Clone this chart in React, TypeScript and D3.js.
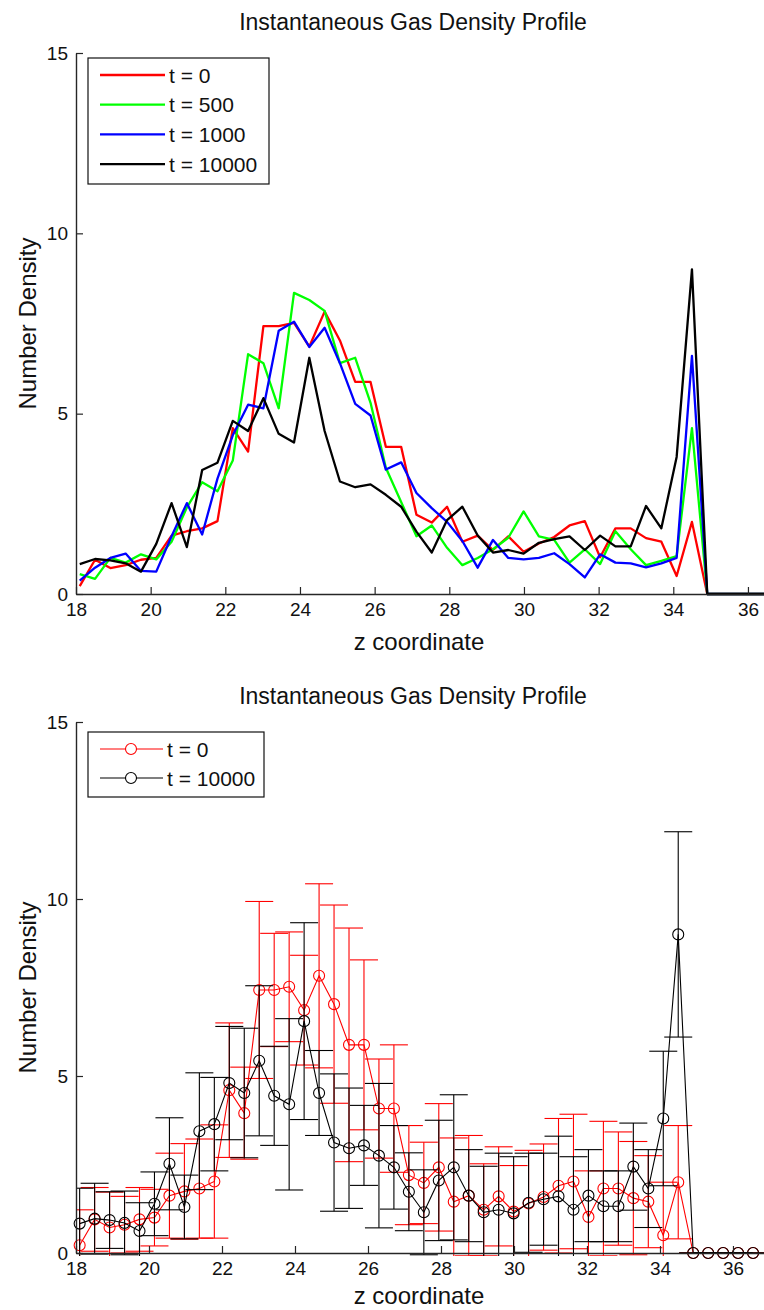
import React, { useEffect, useRef } from "react";
import * as d3 from "d3";

// z positions of the density bins
const zCoordinate = [
  18.1, 18.51, 18.92, 19.33, 19.74, 20.15, 20.56, 20.97, 21.38, 21.79, 22.2, 22.61, 23.02, 23.43, 23.84, 24.25,
  24.66, 25.07, 25.48, 25.89, 26.3, 26.71, 27.12, 27.53, 27.94, 28.35, 28.76, 29.17, 29.58, 29.99, 30.4, 30.81,
  31.22, 31.63, 32.04, 32.45, 32.86, 33.27, 33.68, 34.09, 34.5, 34.91, 35.32, 35.73, 36.14, 36.55,
];

// number density, one list per time step
const densityT0 = [
  0.22, 0.95, 0.72, 0.8, 0.95, 1.0, 1.62, 1.74, 1.82, 2.02, 4.6, 3.95, 7.43, 7.43, 7.52, 6.86, 7.83, 7.03, 5.88,
  5.88, 4.08, 4.08, 2.2, 1.98, 2.42, 1.45, 1.62, 1.22, 1.6, 1.17, 1.4, 1.58, 1.9, 2.02, 1.02, 1.82, 1.82, 1.55,
  1.45, 0.5, 2.0, 0, 0, 0, 0, 0,
];
const densityT500 = [
  0.55, 0.42, 1.0, 0.87, 1.1, 0.96, 1.45, 2.4, 3.1, 2.85, 3.7, 6.65, 6.4, 5.15, 8.35, 8.15, 7.85, 6.4, 6.55, 5.3,
  3.5, 2.55, 1.6, 1.9, 1.28, 0.8, 1.0, 1.24, 1.56, 2.29, 1.6, 1.5, 0.87, 1.24, 0.83, 1.74, 1.24, 0.8, 0.92, 1.05,
  4.6, 0, 0, 0, 0, 0,
];
const densityT1000 = [
  0.37, 0.73, 1.0, 1.12, 0.64, 0.62, 1.6, 2.52, 1.65, 3.2, 4.4, 5.25, 5.15, 7.3, 7.55, 6.85, 7.38, 6.4, 5.27, 4.95,
  3.45, 3.65, 2.8, 2.38, 2.0, 1.47, 0.73, 1.5, 1.0, 0.96, 1.0, 1.13, 0.83, 0.46, 1.1, 0.87, 0.85, 0.74, 0.85, 1.0,
  6.6, 0, 0, 0, 0, 0,
];
const densityT10000 = [
  0.83, 0.97, 0.93, 0.85, 0.62, 1.39, 2.52, 1.3, 3.44, 3.64, 4.8, 4.52, 5.43, 4.44, 4.2, 6.55, 4.52, 3.12, 2.96,
  3.04, 2.75, 2.42, 1.73, 1.15, 2.05, 2.42, 1.62, 1.15, 1.22, 1.12, 1.42, 1.52, 1.6, 1.22, 1.62, 1.32, 1.32, 2.44,
  1.82, 3.8, 9.0, 0, 0, 0, 0, 0,
];

// error bar half-lengths for the bottom panel
const errorT0 = [
  1.0, 0.9, 1.0, 0.8, 0.9, 0.8, 1.2, 1.35, 1.4, 1.6, 1.9, 1.3, 2.5, 1.6, 1.55, 1.55, 2.6, 2.8, 3.3, 2.4, 1.4, 1.8,
  1.4, 1.15, 1.8, 1.8, 1.7, 1.3, 1.4, 1.3, 1.5, 1.5, 1.9, 1.9, 1.3, 1.9, 1.6, 1.6, 1.3, 1.5, 1.6, 0, 0, 0, 0, 0,
];
const errorT10000 = [
  1.0, 1.0, 0.8, 0.9, 0.8, 0.9, 1.3, 0.9, 1.65, 1.32, 1.6, 1.83, 2.12, 1.4, 2.42, 2.78, 1.2, 1.94, 1.7, 1.13, 2.04,
  1.18, 1.1, 1.2, 1.7, 2.05, 1.3, 1.3, 1.6, 1.6, 1.4, 1.3, 1.7, 1.5, 1.3, 1.0, 1.0, 1.23, 1.1, 1.9, 2.9, 0, 0, 0,
  0, 0,
];

const xTickValues = [18, 20, 22, 24, 26, 28, 30, 32, 34, 36];
const yTickValues = [0, 5, 10, 15];

const topLabels = ["t = 0", "t = 500", "t = 1000", "t = 10000"];
const bottomLabels = ["t = 0", "t = 10000"];

const chartTitle = "Instantaneous Gas Density Profile";
const xLabel = "z coordinate";
const yLabel = "Number Density";

const font = "'Liberation Sans', Arial, Helvetica, sans-serif";
const axisColor = "#262626";

type Sel = d3.Selection<SVGSVGElement, unknown, null, undefined>;

/** Draws MATLAB-like axes (inward ticks, no box) plus title and labels. */
function drawAxes(svg: Sel, x: d3.ScaleLinear<number, number>, y: d3.ScaleLinear<number, number>, titleY: number, labelY: number) {
  const [x0] = x.range();
  const [y0, y1] = y.range();

  const xAxis = svg
    .append("g")
    .attr("transform", `translate(0, ${y0})`)
    .call(d3.axisBottom(x).tickValues(xTickValues).tickSizeInner(-7).tickSizeOuter(0).tickPadding(9));
  const yAxis = svg
    .append("g")
    .attr("transform", `translate(${x0}, 0)`)
    .call(d3.axisLeft(y).tickValues(yTickValues).tickSizeInner(-7).tickSizeOuter(0).tickPadding(8));

  [xAxis, yAxis].forEach((g) => {
    g.select(".domain").attr("stroke", axisColor).attr("stroke-width", 1.4);
    g.selectAll(".tick line").attr("stroke", axisColor).attr("stroke-width", 1.2);
    g.selectAll(".tick text").attr("font-family", font).attr("font-size", 19).attr("fill", "#111");
  });

  svg
    .append("text")
    .attr("x", 413)
    .attr("y", titleY)
    .attr("text-anchor", "middle")
    .attr("font-family", font)
    .attr("font-size", 23)
    .attr("fill", "#111")
    .text(chartTitle);

  svg
    .append("text")
    .attr("x", 419)
    .attr("y", labelY)
    .attr("text-anchor", "middle")
    .attr("font-family", font)
    .attr("font-size", 24)
    .attr("fill", "#111")
    .text(xLabel);

  svg
    .append("text")
    .attr("transform", `translate(36, ${(y0 + y1) / 2}) rotate(-90)`)
    .attr("text-anchor", "middle")
    .attr("font-family", font)
    .attr("font-size", 24)
    .attr("fill", "#111")
    .text(yLabel);
}

function addClip(svg: Sel, id: string, x: d3.ScaleLinear<number, number>, y: d3.ScaleLinear<number, number>) {
  const [xa, xb] = x.range();
  const [ya, yb] = y.range();
  svg
    .append("clipPath")
    .attr("id", id)
    .append("rect")
    .attr("x", xa)
    .attr("y", yb)
    .attr("width", xb - xa)
    .attr("height", ya - yb + 3);
}

/** Top panel: four density profiles as thick lines. */
function drawLinePanel(svg: Sel) {
  const x = d3.scaleLinear().domain([18, 36.43]).range([76, 764]);
  const y = d3.scaleLinear().domain([0, 15]).range([594, 53]);
  addClip(svg, "clip-top", x, y);

  const series = [
    { values: densityT0, color: "#ff0000" },
    { values: densityT500, color: "#00ff00" },
    { values: densityT1000, color: "#0000ff" },
    { values: densityT10000, color: "#000000" },
  ];

  const line = d3
    .line<number>()
    .x((d, i) => x(zCoordinate[i]))
    .y((d) => y(d));

  const plot = svg.append("g").attr("clip-path", "url(#clip-top)");
  series.forEach((s) => {
    plot
      .append("path")
      .datum(s.values)
      .attr("fill", "none")
      .attr("stroke", s.color)
      .attr("stroke-width", 2.3)
      .attr("stroke-linejoin", "round")
      .attr("d", line);
  });

  drawAxes(svg, x, y, 30, 650);

  // Legend
  const legend = svg.append("g");
  legend
    .append("rect")
    .attr("x", 88)
    .attr("y", 58)
    .attr("width", 181)
    .attr("height", 126)
    .attr("fill", "#fff")
    .attr("stroke", "#111")
    .attr("stroke-width", 1.2);

  const item = legend
    .selectAll(".item")
    .data(topLabels)
    .enter()
    .append("g")
    .attr("transform", (d, i) => `translate(0, ${75 + i * 29.7})`);
  item
    .append("line")
    .attr("x1", 100)
    .attr("x2", 165)
    .attr("stroke", (d, i) => series[i].color)
    .attr("stroke-width", 2.3);
  item
    .append("text")
    .attr("x", 169)
    .attr("y", 7.5)
    .attr("font-family", font)
    .attr("font-size", 21)
    .attr("fill", "#111")
    .text((d) => d);
}

/** Bottom panel: two profiles with error bars and circle markers. */
function drawErrorPanel(svg: Sel) {
  const x = d3.scaleLinear().domain([18, 36.85]).range([76, 764]);
  const y = d3.scaleLinear().domain([0, 15]).range([1253, 722]);
  addClip(svg, "clip-bottom", x, y);

  const series = [
    { values: densityT0, errors: errorT0, color: "#ff0000" },
    { values: densityT10000, errors: errorT10000, color: "#000000" },
  ];
  const cap = 14;
  const radius = 5.5;

  const line = d3
    .line<number>()
    .x((d, i) => x(zCoordinate[i]))
    .y((d) => y(d));

  series.forEach((s) => {
    const plot = svg.append("g").attr("clip-path", "url(#clip-bottom)");
    const bars = plot
      .selectAll(".bar")
      .data(s.values)
      .enter()
      .append("g")
      .attr("stroke", s.color)
      .attr("stroke-width", 1.1);
    bars
      .append("line")
      .attr("x1", (d, i) => x(zCoordinate[i]))
      .attr("x2", (d, i) => x(zCoordinate[i]))
      .attr("y1", (d, i) => y(d - s.errors[i]))
      .attr("y2", (d, i) => y(d + s.errors[i]));
    [-1, 1].forEach((sign) => {
      bars
        .append("line")
        .attr("x1", (d, i) => x(zCoordinate[i]) - cap)
        .attr("x2", (d, i) => x(zCoordinate[i]) + cap)
        .attr("y1", (d, i) => y(d + sign * s.errors[i]))
        .attr("y2", (d, i) => y(d + sign * s.errors[i]));
    });

    plot
      .append("path")
      .datum(s.values)
      .attr("fill", "none")
      .attr("stroke", s.color)
      .attr("stroke-width", 1.1)
      .attr("d", line);

    svg
      .append("g")
      .selectAll("circle")
      .data(s.values)
      .enter()
      .append("circle")
      .attr("cx", (d, i) => x(zCoordinate[i]))
      .attr("cy", (d) => y(d))
      .attr("r", radius)
      .attr("fill", "none")
      .attr("stroke", s.color)
      .attr("stroke-width", 1.1);
  });

  drawAxes(svg, x, y, 704, 1304);

  // Legend
  const legend = svg.append("g");
  legend
    .append("rect")
    .attr("x", 88)
    .attr("y", 732)
    .attr("width", 176)
    .attr("height", 65)
    .attr("fill", "#fff")
    .attr("stroke", "#111")
    .attr("stroke-width", 1.2);

  const item = legend
    .selectAll(".item")
    .data(bottomLabels)
    .enter()
    .append("g")
    .attr("transform", (d, i) => `translate(0, ${749 + i * 29})`);
  item
    .append("line")
    .attr("x1", 100)
    .attr("x2", 163)
    .attr("stroke", (d, i) => series[i].color)
    .attr("stroke-width", 1.1);
  item
    .append("circle")
    .attr("cx", 131)
    .attr("r", radius)
    .attr("fill", "#fff")
    .attr("stroke", (d, i) => series[i].color)
    .attr("stroke-width", 1.1);
  item
    .append("text")
    .attr("x", 167)
    .attr("y", 7.5)
    .attr("font-family", font)
    .attr("font-size", 21)
    .attr("fill", "#111")
    .text((d) => d);
}

export default function App() {
  const ref = useRef<SVGSVGElement>(null);

  useEffect(() => {
    const svg = d3.select(ref.current as SVGSVGElement);
    svg.selectAll("*").remove();
    drawLinePanel(svg);
    drawErrorPanel(svg);
  }, []);

  return (
    <svg
      ref={ref}
      width={764}
      height={1310}
      style={{ position: "absolute", left: 0, top: 0, background: "#fff" }}
    />
  );
}
